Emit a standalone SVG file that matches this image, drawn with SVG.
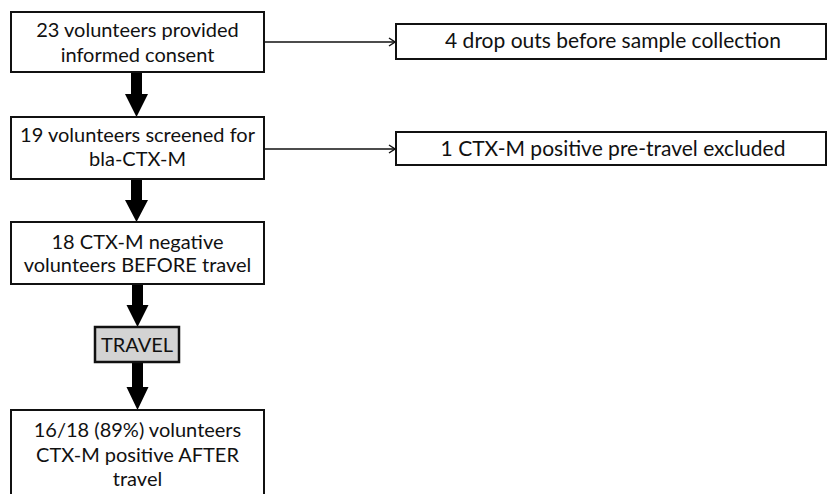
<svg xmlns="http://www.w3.org/2000/svg" width="827" height="494" viewBox="0 0 827 494">
<style>
.box{fill:#fff;stroke:#111;stroke-width:2}
.grey{fill:#d3d3d3;stroke:#111;stroke-width:2.5}
text{font-family:Lato,"Liberation Sans",sans-serif;font-size:20px;fill:#111;text-anchor:middle}
.r{font-size:21px}
.thin{stroke:#111;stroke-width:1.5;fill:none}
.big{fill:#000}
</style>
<defs>
<marker id="chev" viewBox="0 0 10 10" refX="9" refY="5" markerWidth="10" markerHeight="10" markerUnits="userSpaceOnUse" orient="auto">
<path d="M3,1 L9,5 L3,9" fill="none" stroke="#111" stroke-width="1.5"/>
</marker>
</defs>
<rect width="827" height="494" fill="#fff"/>
<g id="connectors">
<line class="thin" x1="264" y1="42" x2="395" y2="42" marker-end="url(#chev)"/>
<line class="thin" x1="264" y1="149" x2="395" y2="149" marker-end="url(#chev)"/>
<polygon class="big" points="131,72 142,72 142,94 148,94 136.5,117 125,94 131,94"/>
<polygon class="big" points="131,179 142,179 142,200 148,200 136.5,222 125,200 131,200"/>
<polygon class="big" points="132,284 143,284 143,305 148.5,305 137.5,327 126.5,305 132,305"/>
<polygon class="big" points="132,362 143,362 143,387 148.5,387 137.5,410 126.5,387 132,387"/>
</g>
<g id="n1"><rect class="box" x="11" y="12" width="253" height="60"/><text x="137.5" y="37">23 volunteers provided</text><text x="137.5" y="62">informed consent</text></g>
<g id="n2"><rect class="box" x="11" y="117" width="253" height="62"/><text x="137.5" y="142">19 volunteers screened for</text><text x="137.5" y="166">bla-CTX-M</text></g>
<g id="n3"><rect class="box" x="11" y="222" width="253" height="62"/><text x="137.5" y="249">18 CTX-M negative</text><text x="137.5" y="272">volunteers BEFORE travel</text></g>
<g id="n4"><rect class="grey" x="95" y="327" width="84" height="35"/><text x="137" y="352" font-size="19">TRAVEL</text></g>
<g id="n5"><rect class="box" x="11" y="410" width="253" height="90"/><text x="137.5" y="437">16/18 (89%) volunteers</text><text x="137.5" y="462">CTX-M positive AFTER</text><text x="137.5" y="486">travel</text></g>
<g id="n6"><rect class="box" x="396" y="24" width="430" height="35"/><text class="r" x="613" y="48">4 drop outs before sample collection</text></g>
<g id="n7"><rect class="box" x="396" y="132" width="430" height="33"/><text class="r" x="613" y="156">1 CTX-M positive pre-travel excluded</text></g>
</svg>
